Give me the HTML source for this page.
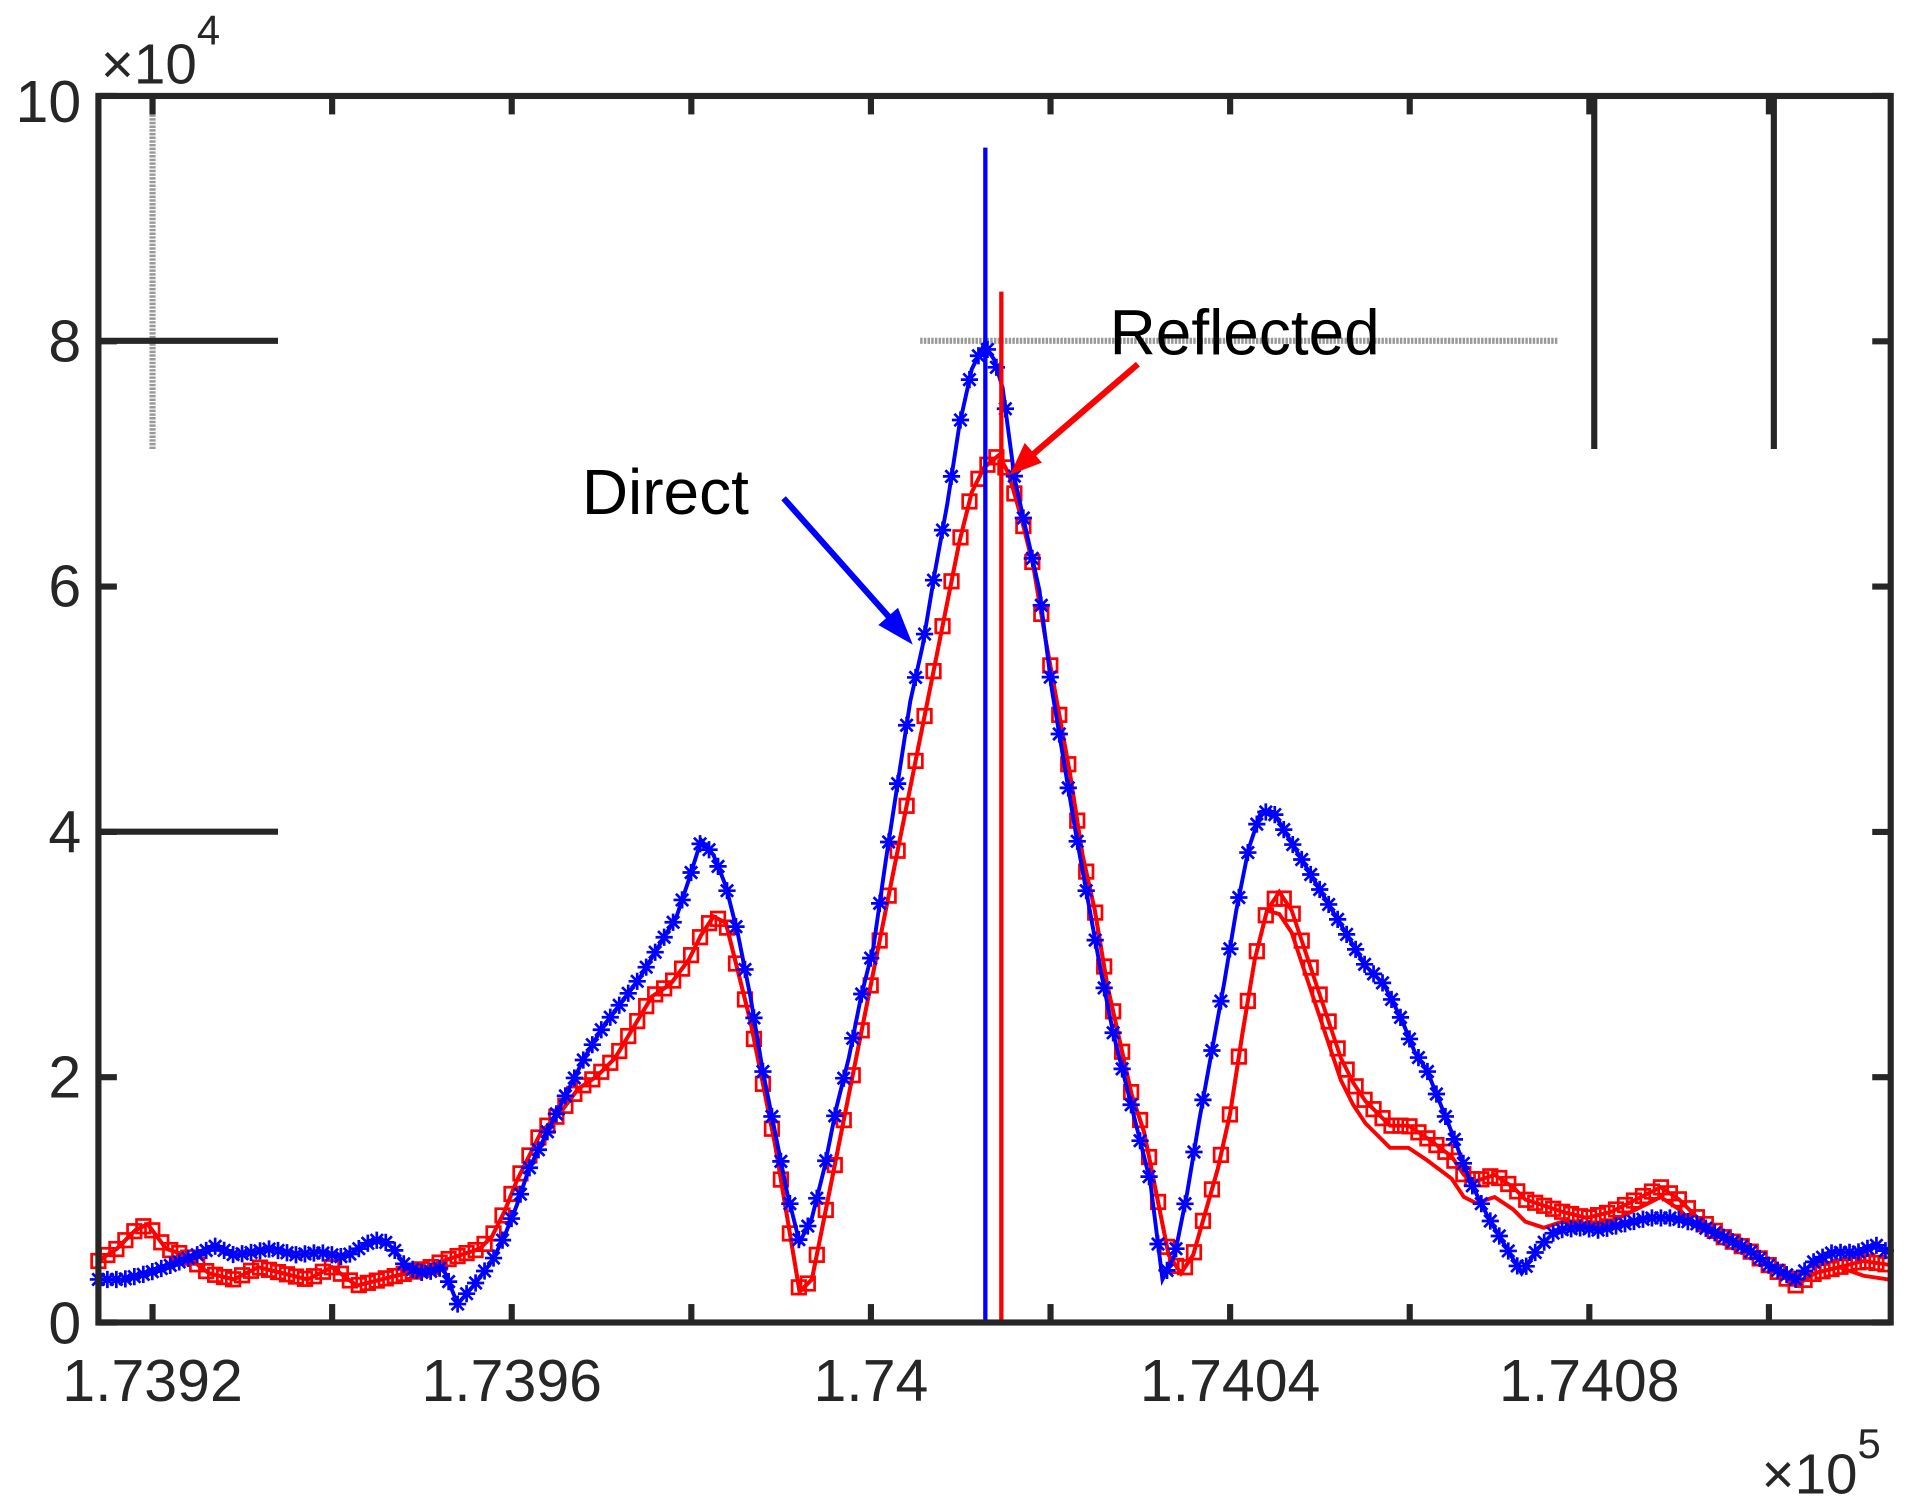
<!DOCTYPE html>
<html><head><meta charset="utf-8"><style>
html,body{margin:0;padding:0;background:#fff;}
svg{display:block;}
text{font-family:"Liberation Sans",Arial,sans-serif;fill:#262626;}
</style></head><body>
<svg id="s" width="1919" height="1510" viewBox="0 0 1560 1227.4" preserveAspectRatio="none" xmlns="http://www.w3.org/2000/svg">
<rect x="0" y="0" width="1560" height="1228" fill="#fff"/>
<g id="extra">
<line x1="124" y1="78" x2="124" y2="365" stroke="#999" stroke-width="5" stroke-dasharray="2,1"/>
<line x1="80" y1="277" x2="226" y2="277" stroke="#262626" stroke-width="5"/>
<line x1="80" y1="676" x2="226" y2="676" stroke="#262626" stroke-width="5"/>
<line x1="748" y1="277" x2="1266" y2="277" stroke="#999" stroke-width="5" stroke-dasharray="2,1"/>
<line x1="1296" y1="78" x2="1296" y2="365" stroke="#262626" stroke-width="5"/>
<line x1="1442" y1="78" x2="1442" y2="365" stroke="#262626" stroke-width="5"/>
</g>
<g id="data"></g>
<line x1="801" y1="120" x2="801" y2="1075" stroke="#0000ff" stroke-width="3.5"/>
<line x1="814" y1="237" x2="814" y2="1075" stroke="#ff0000" stroke-width="3.5"/>
<g id="axes" fill="none" stroke="#262626" stroke-width="5"></g>
<text x="473" y="418" font-size="52" style="fill:#000">Direct</text>
<line x1="637" y1="405" x2="732" y2="512" stroke="#0000ff" stroke-width="5"/>
<polygon points="742,524 714,508 730,494" fill="#0000ff"/>
<text x="902" y="288" font-size="52" style="fill:#000">Reflected</text>
<line x1="925" y1="296" x2="832" y2="376" stroke="#ff0000" stroke-width="5"/>
<polygon points="821,386 833,360 847,376" fill="#ff0000"/>
<g font-size="48" text-anchor="end">
<text x="66" y="99">10</text><text x="66" y="294">8</text><text x="66" y="493">6</text>
<text x="66" y="693">4</text><text x="66" y="892">2</text><text x="66" y="1092">0</text>
</g>
<g font-size="48" text-anchor="middle">
<text x="124" y="1139">1.7392</text><text x="416" y="1139">1.7396</text><text x="708" y="1139">1.74</text>
<text x="1000" y="1139">1.7404</text><text x="1292" y="1139">1.7408</text>
</g>
<text x="82" y="68" font-size="46">×10</text><text x="160" y="36" font-size="34">4</text>
<text x="1432" y="1214" font-size="46">×10</text><text x="1510" y="1185" font-size="34">5</text>
</svg>
<script>
var NS="http://www.w3.org/2000/svg";
function el(t,a,p){var e=document.createElementNS(NS,t);for(var k in a)e.setAttribute(k,a[k]);p.appendChild(e);return e;}
var blue=[[80,1040],[100,1040],[120,1035],[140,1028],[160,1020],[175,1013],[190,1020],[205,1018],[220,1015],[240,1020],[260,1018],[280,1022],[300,1010],[310,1007],[320,1015],[330,1030],[345,1035],[360,1030],[372,1060],[385,1045],[400,1025],[410,1005],[420,980],[430,950],[445,920],[460,890],[475,860],[490,835],[505,815],[520,795],[535,770],[550,745],[560,715],[570,683],[580,695],[590,720],[600,760],[610,810],[620,870],[630,920],[640,970],[650,1010],[660,990],[670,950],[680,900],[690,860],[700,810],[710,770],[720,700],[730,635],[740,570],[750,525],[760,465],[770,410],[780,345],[790,300],[800,280],[808,292],[815,315],[825,390],[835,435],[845,480],[855,560],[865,620],[875,680],[885,735],[895,790],[905,840],[915,880],[925,920],[935,960],[945,1040],[955,1020],[965,970],[975,910],[985,855],[995,800],[1005,740],[1015,690],[1025,660],[1035,660],[1050,685],[1065,710],[1080,735],[1095,760],[1110,785],[1125,800],[1140,830],[1150,855],[1160,870],[1170,895],[1180,920],[1195,960],[1210,990],[1225,1015],[1237,1035],[1250,1015],[1265,1000],[1285,998],[1300,1000],[1320,995],[1340,990],[1360,990],[1380,995],[1400,1005],[1420,1015],[1440,1030],[1460,1040],[1475,1025],[1490,1018],[1510,1018],[1525,1012],[1535,1018]];
var red=[[80,1025],[95,1015],[110,1000],[120,995],[135,1015],[150,1020],[170,1035],[190,1040],[210,1030],[230,1035],[250,1040],[270,1030],[290,1045],[310,1040],[330,1035],[350,1030],[360,1025],[375,1020],[390,1015],[400,1005],[410,985],[420,960],[430,940],[440,920],[455,905],[470,885],[485,875],[500,860],[515,835],[530,810],[545,800],[560,780],[570,760],[580,745],[590,750],[600,790],[610,830],[620,880],[630,930],[640,990],[650,1050],[660,1040],[670,990],[680,940],[690,890],[700,840],[710,790],[720,740],[730,690],[740,640],[750,590],[760,540],[770,490],[780,440],[790,400],[800,380],[812,370],[820,385],[830,420],[840,460],[850,520],[860,575],[870,630],[880,695],[890,740],[900,800],[910,845],[920,890],[930,920],[940,970],[950,1020],[960,1035],[970,1020],[980,985],[990,950],[1000,905],[1010,840],[1020,780],[1030,740],[1040,725],[1050,740],[1060,770],[1070,800],[1080,830],[1090,860],[1100,880],[1110,895],[1120,905],[1130,915],[1145,915],[1160,925],[1180,940],[1190,955],[1200,960],[1215,955],[1230,965],[1240,975],[1255,980],[1270,985],[1290,990],[1310,985],[1330,975],[1350,965],[1365,975],[1380,990],[1400,1005],[1420,1015],[1440,1030],[1460,1045],[1475,1035],[1495,1030],[1515,1025],[1535,1028]];
var redL=red.map(function(p){var y=p[1];if(p[0]>=1040&&p[0]<=1260)y+=18;if(p[0]>1260&&p[0]<1400)y+=8;if(p[0]>=1500)y+=12;return [p[0],y];});
var g=document.getElementById('data');
function pts(a){return a.map(function(p){return p.join(',')}).join(' ');}
function interp(a,x){for(var i=0;i<a.length-1;i++){if(x>=a[i][0]&&x<=a[i+1][0]){var t=(x-a[i][0])/(a[i+1][0]-a[i][0]);return a[i][1]+t*(a[i+1][1]-a[i][1]);}}return a[a.length-1][1];}
el('polyline',{points:pts(redL),fill:'none',stroke:'#ff0000','stroke-width':3.2},g);
el('polyline',{points:pts(red),fill:'none',stroke:'#ff0000','stroke-width':3.2},g);
for(var x=80;x<=1535;x+=7.3){var y=interp(red,x);el('rect',{x:x-5.5,y:y-5.5,width:11,height:11,fill:'none',stroke:'#ff0000','stroke-width':2.2},g);}
el('polyline',{points:pts(blue),fill:'none',stroke:'#0000ff','stroke-width':3.2},g);
for(var x=80;x<=1535;x+=7.3){var y=interp(blue,x);var d='M'+(x-7)+','+y+'h14M'+x+','+(y-7)+'v14M'+(x-5)+','+(y-5)+'l10,10M'+(x-5)+','+(y+5)+'l10,-10';el('path',{d:d,stroke:'#0000ff','stroke-width':2.2,fill:'none'},g);}
var ax=document.getElementById('axes');
el('rect',{x:80,y:78,width:1457,height:997},ax);
[124,270,416,562,708,854,1000,1146,1292,1438].forEach(function(x){el('line',{x1:x,y1:1075,x2:x,y2:1060},ax);el('line',{x1:x,y1:78,x2:x,y2:93},ax);});
for(var k=0;k<=5;k++){var y=1075-k*199.4;el('line',{x1:80,y1:y,x2:95,y2:y},ax);el('line',{x1:1537,y1:y,x2:1522,y2:y},ax);}
</script>
</body></html>
